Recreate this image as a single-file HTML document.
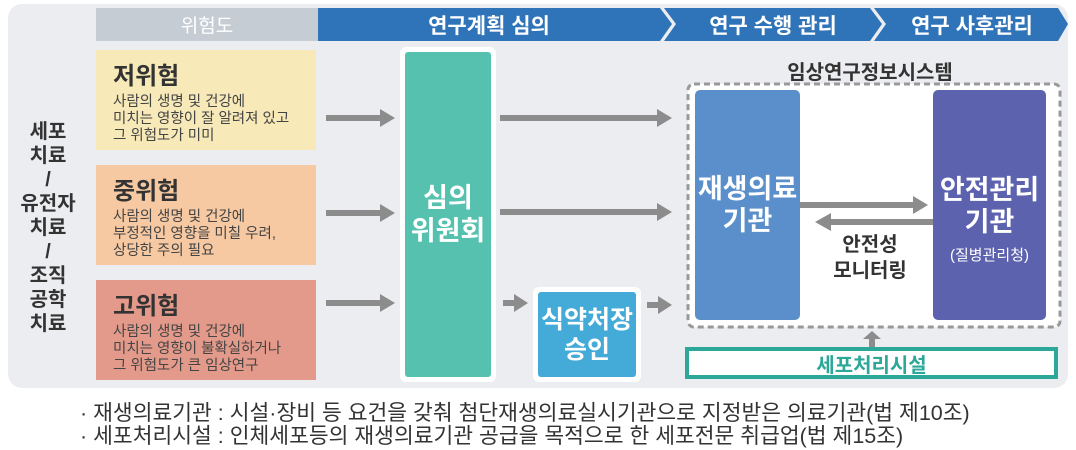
<!DOCTYPE html>
<html><head><meta charset="utf-8"><style>
body{margin:0;width:1076px;height:446px;background:#fff;font-family:"Liberation Sans","Noto Sans CJK KR",sans-serif;position:relative;overflow:hidden}
.a{position:absolute}
.c{display:flex;align-items:center;justify-content:center;text-align:center}
.rb{position:absolute;left:96px;width:220px;height:100px;padding:13px 0 0 17px;box-sizing:border-box;color:#444}
.rb b{display:block;font-size:24px;color:#333;margin-bottom:3px;line-height:28px}
.rb span{font-size:14.5px;line-height:17px;display:block;white-space:nowrap}
.foot{position:absolute;left:80px;font-size:21.5px;color:#333;white-space:nowrap}
</style></head><body>
<div class="a" style="left:8px;top:4px;width:1060px;height:384px;background:#ecedf0;border-radius:14px"></div>
<div class="a c" style="left:96px;top:8px;width:222px;height:33px;background:#c5ccd4;color:#fff;font-size:19px">위험도</div>
<svg class="a" style="left:0;top:0" width="1076" height="446">
<polygon points="318,8 660,8 672,24 660,41 318,41" fill="#2f73b8"/>
<polygon points="664,8 870,8 882,24 870,41 664,41 676,24" fill="#2f73b8"/>
<polygon points="874,8 1058,8 1068,24 1058,41 874,41 886,24" fill="#2f73b8"/>
<rect x="688" y="84" width="372" height="243" rx="6" fill="#fff" stroke="#999" stroke-width="3" stroke-dasharray="6 4"/>
<g fill="#8c8c8c">
<rect x="326" y="115" width="55" height="6"/><polygon points="380,109 395,118 380,127"/>
<rect x="326" y="210" width="55" height="6"/><polygon points="380,204 395,213 380,222"/>
<rect x="326" y="300" width="55" height="6"/><polygon points="380,294 395,303 380,312"/>
<rect x="500" y="115" width="158" height="6"/><polygon points="657,109 672,118 657,127"/>
<rect x="500" y="209" width="158" height="6"/><polygon points="657,203 672,212 657,221"/>
<rect x="503" y="300" width="12" height="6"/><polygon points="514,294 528,303 514,312"/>
<rect x="647" y="302" width="12" height="6"/><polygon points="658,296 672,305 658,314"/>
<rect x="800" y="202" width="114" height="6"/><polygon points="913,196 928,205 913,214"/>
<rect x="830" y="219" width="104" height="6"/><polygon points="831,213 815,222 831,231"/>
<rect x="869" y="338" width="6" height="10"/><polygon points="863,339 872,331 881,339"/>
</g>
</svg>
<div class="a c" style="left:318px;top:8px;width:342px;height:33px;color:#fff;font-size:21px;font-weight:bold">연구계획 심의</div>
<div class="a c" style="left:676px;top:8px;width:194px;height:33px;color:#fff;font-size:21px;font-weight:bold">연구 수행 관리</div>
<div class="a c" style="left:886px;top:8px;width:172px;height:33px;color:#fff;font-size:21px;font-weight:bold">연구 사후관리</div>
<div class="a" style="left:13px;top:120px;width:70px;text-align:center;font-size:20px;font-weight:bold;line-height:24px;color:#333">세포<br>치료<br>/<br>유전자<br>치료<br>/<br>조직<br>공학<br>치료</div>
<div class="rb" style="top:50px;background:#f7e9b8"><b>저위험</b><span>사람의 생명 및 건강에<br>미치는 영향이 잘 알려져 있고<br>그 위험도가 미미</span></div>
<div class="rb" style="top:165px;background:#f6c9a2"><b>중위험</b><span>사람의 생명 및 건강에<br>부정적인 영향을 미칠 우려,<br>상당한 주의 필요</span></div>
<div class="rb" style="top:280px;background:#e39a8a"><b>고위험</b><span>사람의 생명 및 건강에<br>미치는 영향이 불확실하거나<br>그 위험도가 큰 임상연구</span></div>
<div class="a" style="left:400px;top:47px;width:96px;height:335px;background:#fff;border-radius:6px"></div>
<div class="a c" style="left:405px;top:52px;width:86px;height:325px;background:#57c1b0;border-radius:3px;color:#fff;font-size:27px;font-weight:bold;line-height:33px">심의<br>위원회</div>
<div class="a" style="left:533px;top:287px;width:108px;height:95px;background:#fff;border-radius:6px"></div>
<div class="a c" style="left:538px;top:292px;width:98px;height:85px;background:#44aad8;border-radius:3px;color:#fff;font-size:25px;font-weight:bold;line-height:30px;white-space:nowrap">식약처장<br>승인</div>
<div class="a" style="left:760px;top:56px;width:220px;text-align:center;font-size:20px;font-weight:bold;color:#333">임상연구정보시스템</div>
<div class="a c" style="left:695px;top:90px;width:105px;height:230px;background:#5b8fcb;border-radius:5px;color:#fff;font-size:27px;font-weight:bold;line-height:32px;white-space:nowrap">재생의료<br>기관</div>
<div class="a" style="left:933px;top:90px;width:113px;height:230px;background:#5c62ad;border-radius:5px;color:#fff;text-align:center">
<div style="margin-top:84px;font-size:27px;font-weight:bold;line-height:32px;white-space:nowrap">안전관리<br>기관</div><div style="font-size:15px;margin-top:6px">(질병관리청)</div></div>
<div class="a" style="left:810px;top:232px;width:120px;text-align:center;font-size:20px;font-weight:bold;line-height:26px;color:#333">안전성<br>모니터링</div>
<div class="a c" style="left:685px;top:347px;width:373px;height:32px;box-sizing:border-box;border:4px solid #2ba898;background:#fff;color:#2ba898;font-size:20px;font-weight:bold">세포처리시설</div>
<div class="foot" style="top:396px">· 재생의료기관 : 시설·장비 등 요건을 갖춰 첨단재생의료실시기관으로 지정받은 의료기관(법 제10조)</div>
<div class="foot" style="top:419px">· 세포처리시설 : 인체세포등의 재생의료기관 공급을 목적으로 한 세포전문 취급업(법 제15조)</div>
</body></html>
